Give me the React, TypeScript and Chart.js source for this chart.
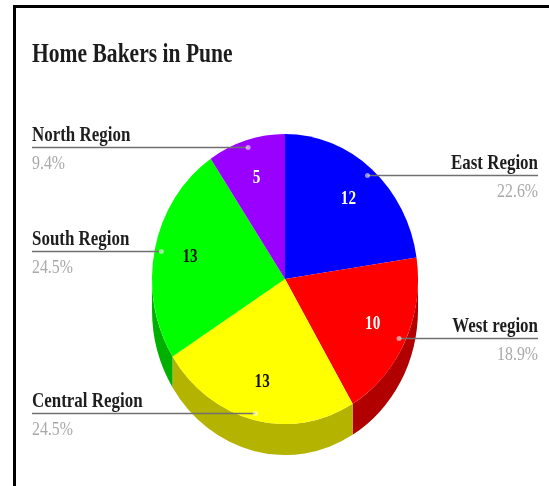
import React, { useEffect, useRef } from 'react';
import { Chart, registerables } from 'chart.js';

Chart.register(...registerables);

const TITLE = 'Home Bakers in Pune';
const regions = ['East Region', 'West region', 'Central Region', 'South Region', 'North Region'];
const bakers = [12, 10, 13, 13, 5];
const sliceColors = ['#0000ff', '#ff0000', '#ffff00', '#00ff00', '#9900ff'];
const sideColors = ['#0000b0', '#b00000', '#b3b300', '#00b000', '#6b00b3'];
const valueColors = ['#ffffff', '#ffffff', '#111111', '#111111', '#ffffff'];

const TILT = 1.09;
const DEPTH = 31;
const SERIF = '"Liberation Serif", "Times New Roman", serif';

function drawText(
  ctx: CanvasRenderingContext2D,
  text: string,
  x: number,
  y: number,
  align: CanvasTextAlign,
  baseline: CanvasTextBaseline,
  font: string,
  color: string,
  sx: number
) {
  ctx.save();
  ctx.translate(x, y);
  ctx.scale(sx, 1);
  ctx.font = font;
  ctx.fillStyle = color;
  ctx.textAlign = align;
  ctx.textBaseline = baseline;
  ctx.fillText(text, 0, 0);
  ctx.restore();
}

const pie3d = {
  id: 'pie3d',
  beforeDatasetsDraw(chart: any) {
    const ctx: CanvasRenderingContext2D = chart.ctx;
    const arcs = chart.getDatasetMeta(0).data as any[];
    if (!arcs.length) return;
    const { x: cx, y: cy, outerRadius: r } = arcs[0].getProps(['x', 'y', 'outerRadius'], true);
    ctx.save();
    arcs.forEach((arc, i) => {
      const { startAngle, endAngle } = arc.getProps(['startAngle', 'endAngle'], true);
      const a0 = Math.max(startAngle, 0);
      const a1 = Math.min(endAngle, Math.PI);
      if (a1 <= a0) return;
      ctx.beginPath();
      ctx.ellipse(cx, cy, r, r * TILT, 0, a0, a1);
      ctx.ellipse(cx, cy + DEPTH, r, r * TILT, 0, a1, a0, true);
      ctx.closePath();
      ctx.fillStyle = sideColors[i];
      ctx.fill();
    });
    ctx.restore();
    ctx.save();
    ctx.translate(cx, cy);
    ctx.scale(1, TILT);
    ctx.translate(-cx, -cy);
  },
  afterDatasetsDraw(chart: any) {
    const ctx: CanvasRenderingContext2D = chart.ctx;
    ctx.restore();
    const arcs = chart.getDatasetMeta(0).data as any[];
    const total = bakers.reduce((a, b) => a + b, 0);

    drawText(ctx, TITLE, 32, 62, 'left', 'alphabetic', `bold 28px ${SERIF}`, '#1c1c1c', 0.77);

    arcs.forEach((arc, i) => {
      const p = arc.getProps(['startAngle', 'endAngle', 'x', 'y', 'outerRadius'], true);
      const mid = (p.startAngle + p.endAngle) / 2;
      const c = Math.cos(mid);
      const s = Math.sin(mid);
      const vx = p.x + c * p.outerRadius * 0.73;
      const vy = p.y + s * p.outerRadius * TILT * 0.73;
      drawText(ctx, String(bakers[i]), vx, vy, 'center', 'middle', `bold 19px ${SERIF}`, valueColors[i], 0.8);

      const ax = p.x + c * p.outerRadius * 0.95;
      const ay = p.y + s * p.outerRadius * TILT * 0.95;
      const left = c < 0;
      const lx = left ? 32 : 538;
      ctx.save();
      ctx.strokeStyle = '#707070';
      ctx.lineWidth = 1.3;
      ctx.beginPath();
      ctx.moveTo(lx, Math.round(ay) + 0.5);
      ctx.lineTo(ax, Math.round(ay) + 0.5);
      ctx.stroke();
      ctx.fillStyle = 'rgba(255,255,255,0.55)';
      ctx.beginPath();
      ctx.arc(ax, Math.round(ay) + 0.5, 2.5, 0, Math.PI * 2);
      ctx.fill();
      ctx.restore();

      const pct = ((bakers[i] / total) * 100).toFixed(1) + '%';
      drawText(ctx, regions[i], lx, ay - 6, left ? 'left' : 'right', 'alphabetic', `bold 22px ${SERIF}`, '#1e1e1e', 0.77);
      drawText(ctx, pct, lx, ay + 22, left ? 'left' : 'right', 'alphabetic', `18px ${SERIF}`, '#a8a8a8', 0.88);
    });
  },
};

export default function App() {
  const ref = useRef<HTMLCanvasElement | null>(null);
  useEffect(() => {
    if (!ref.current) return;
    const chart = new Chart(ref.current, {
      type: 'pie',
      data: {
        labels: regions,
        datasets: [
          {
            data: bakers,
            backgroundColor: sliceColors,
            borderWidth: 0,
            hoverOffset: 0,
            clip: false as any,
          } as any,
        ],
      },
      options: {
        responsive: false,
        animation: false,
        events: [],
        layout: { padding: { left: 152, right: 131, top: 146, bottom: 74 } },
        plugins: {
          legend: { display: false },
          title: { display: false },
          tooltip: { enabled: false },
        },
      },
      plugins: [pie3d as any],
    });
    return () => chart.destroy();
  }, []);

  return (
    <div
      style={{
        position: 'absolute',
        left: 0,
        top: 0,
        width: 549,
        height: 486,
        overflow: 'hidden',
        background: '#ffffff',
      }}
    >
      <div
        style={{
          position: 'absolute',
          left: 13,
          top: 5,
          width: 700,
          height: 700,
          borderLeft: '3px solid #000',
          borderTop: '3px solid #000',
        }}
      />
      <canvas
        ref={ref}
        width={549}
        height={486}
        style={{ position: 'absolute', left: 0, top: 0 }}
      />
    </div>
  );
}
